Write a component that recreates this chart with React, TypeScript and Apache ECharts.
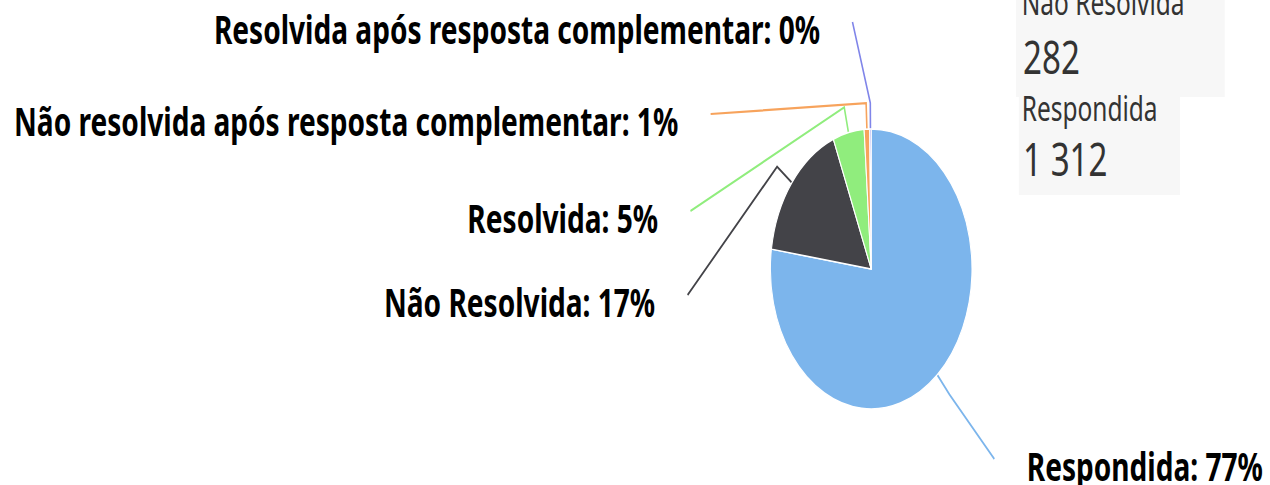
import React, { useEffect, useRef } from 'react';
import * as echarts from 'echarts';

const categories = [
  'Respondida',
  'Não Resolvida',
  'Resolvida',
  'Não resolvida após resposta complementar',
  'Resolvida após resposta complementar',
];
const values = [1312, 282, 85, 15, 4];
const colors = ['#7cb5ec', '#434348', '#90ed7d', '#f7a35c', '#8085e9'];
const infoLabels = ['Não Resolvida', 'Respondida'];
const infoValues = ['282', '1 312'];

// horizontal squeeze of the whole picture (the reference is stretched non-uniformly)
const SX = 0.72;
const W = Math.round(1270 / SX);
const H = 485;

// label anchors in the unscaled coordinate system
const labelAnchors = [
  { x: 1426, y: 466, align: 'left' },
  { x: 910, y: 302, align: 'right' },
  { x: 914, y: 218, align: 'right' },
  { x: 942, y: 121, align: 'right' },
  { x: 1139, y: 29, align: 'right' },
];
const GAP = 45;
const FONT = 'Noto Sans';

export default function App() {
  const ref = useRef<HTMLDivElement>(null);
  useEffect(() => {
    document.body.style.margin = '0';
    const chart = echarts.init(ref.current!, null, { renderer: 'svg' });
    chart.setOption({
      animation: false,
      backgroundColor: '#ffffff',
      graphic: [
        { type: 'rect', shape: { x: 1411, y: -10, width: 290, height: 107 }, style: { fill: '#f7f7f7' } },
        { type: 'rect', shape: { x: 1415, y: 97, width: 224, height: 98 }, style: { fill: '#f7f7f7' } },
        { type: 'text', x: 1419, y: 2, style: { text: infoLabels[0], fontSize: 34, fontFamily: FONT, fill: '#333333', verticalAlign: 'middle' } },
        { type: 'text', x: 1421, y: 56, style: { text: infoValues[0], fontSize: 46, fontFamily: FONT, fill: '#333333', verticalAlign: 'middle' } },
        { type: 'text', x: 1419, y: 108, style: { text: infoLabels[1], fontSize: 34, fontFamily: FONT, fill: '#333333', verticalAlign: 'middle' } },
        { type: 'text', x: 1421, y: 158, style: { text: infoValues[1], fontSize: 46, fontFamily: FONT, fill: '#333333', verticalAlign: 'middle' } },
      ],
      series: [
        {
          type: 'pie',
          center: [1210, 269],
          radius: 140,
          startAngle: 90,
          clockwise: true,
          avoidLabelOverlap: false,
          itemStyle: { borderColor: '#ffffff', borderWidth: 1.5 },
          data: categories.map((c, i) => ({
            name: c,
            value: values[i],
            itemStyle: { color: colors[i] },
            labelLine: { lineStyle: { color: colors[i], width: 2.2 } },
          })),
          label: {
            show: true,
            formatter: (p: any) => `${p.name}: ${Math.round(p.percent)}%`,
            fontSize: 39,
            fontWeight: 'bold',
            fontFamily: FONT,
            color: '#000000',
          },
          labelLine: { show: true, length: 26, length2: 10, smooth: false },
          labelLayout: (params: any) => {
            const a = labelAnchors[params.dataIndex];
            const pts = params.labelLinePoints;
            const end = [a.align === 'right' ? a.x + GAP : a.x - GAP, a.y - 7];
            return {
              x: a.x,
              y: a.y,
              align: a.align,
              verticalAlign: 'middle',
              labelLinePoints: pts ? [pts[0], pts[1], end] : undefined,
            };
          },
        },
      ],
    });
    return () => chart.dispose();
  }, []);
  return (
    <div style={{ position: 'fixed', left: 0, top: 0, width: 1270, height: H, overflow: 'hidden', background: '#fff' }}>
      <div
        ref={ref}
        style={{ width: W, height: H, transform: `scaleX(${SX})`, transformOrigin: '0 0' }}
      />
    </div>
  );
}
